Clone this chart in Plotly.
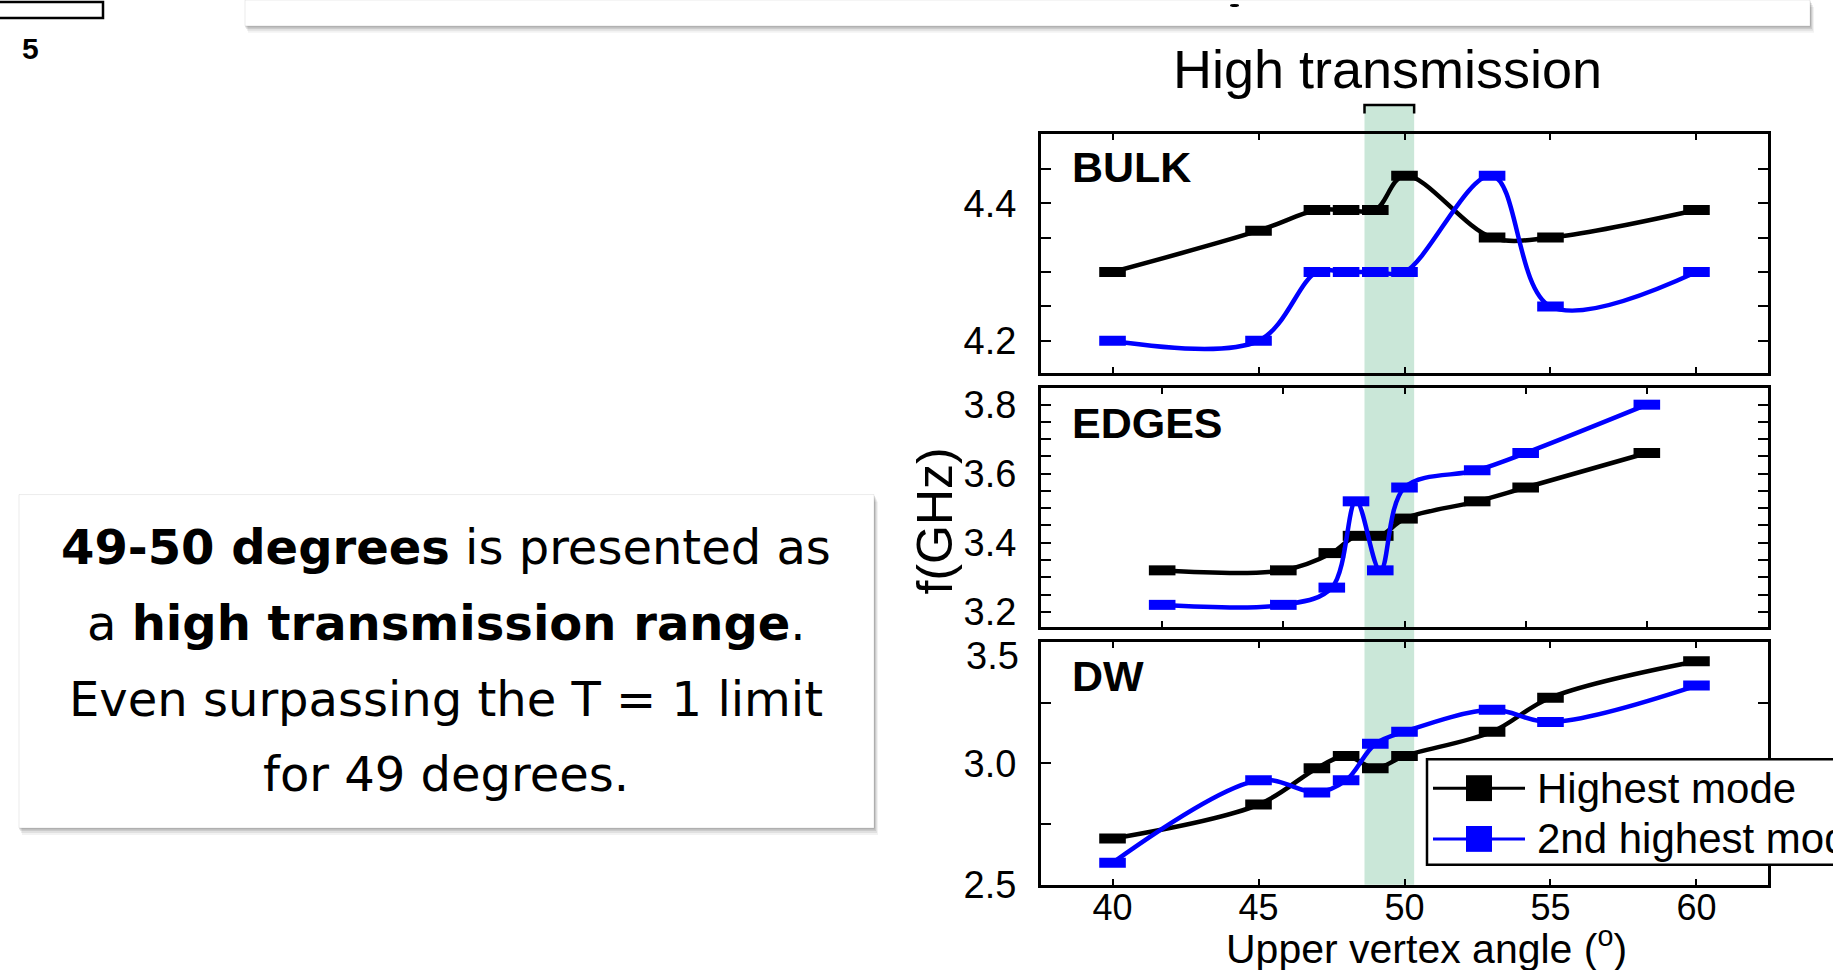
import plotly.graph_objects as go

W, H = 1833, 970
# the captured page comes out about 2% shorter than the figure; positions below are
# given in final picture pixels and stretched back by this factor
SQUEEZE = 0.979

# ---------------- data ----------------
bulk_angle = [40, 45, 47, 48, 49, 50, 53, 55, 60]
bulk_highest = [4.30, 4.36, 4.39, 4.39, 4.39, 4.44, 4.35, 4.35, 4.39]
bulk_second = [4.20, 4.20, 4.30, 4.30, 4.30, 4.30, 4.44, 4.25, 4.30]

edges_angle = [45, 47.5, 48.5, 49, 49.5, 50, 51.5, 52.5, 55]
edges_highest = [3.32, 3.32, 3.37, 3.42, 3.42, 3.47, 3.52, 3.56, 3.66]
edges_second = [3.22, 3.22, 3.27, 3.52, 3.32, 3.56, 3.61, 3.66, 3.80]

dw_angle = [40, 45, 47, 48, 49, 50, 53, 55, 60]
dw_highest = [2.69, 2.83, 2.98, 3.03, 2.98, 3.03, 3.13, 3.27, 3.42]
dw_second = [2.59, 2.93, 2.88, 2.93, 3.08, 3.13, 3.22, 3.17, 3.32]

angle_ticks = [40, 45, 50, 55, 60]
edges_angle_ticks = [45, 47.5, 50, 52.5, 55]
bulk_yticks = [4.20, 4.25, 4.30, 4.35, 4.40, 4.45]
bulk_ylabels = ["4.2", "", "", "", "4.4", ""]
edges_yticks = [3.20, 3.25, 3.30, 3.35, 3.40, 3.45, 3.50, 3.55, 3.60, 3.65, 3.70, 3.75, 3.80]
edges_ylabels = ["3.2", "", "", "", "3.4", "", "", "", "3.6", "", "", "", "3.8"]
dw_yticks = [2.50, 2.75, 3.00, 3.25, 3.50]
dw_ylabels = ["2.5", "", "3.0", "", ""]

high_band = [48.63, 50.33]
series_names = ["Highest mode", "2nd highest mode"]
series_colors = ["#000000", "#0000ff"]


def px(x):
    return x / W


def py(y):
    return 1 - (y / SQUEEZE) / H


PLOT_L, PLOT_R = 1041, 1768
panels = {
    "bulk": (131, 371),
    "edges": (386, 626),
    "dw": (641, 885),
}

fig = go.Figure()

SANS = "Liberation Sans, Arial, sans-serif"
TICK_FONT = dict(family=SANS, size=38, color="black")


def add_series(xs, ys, color, xa, ya):
    fig.add_trace(go.Scatter(
        x=xs, y=ys, xaxis=xa, yaxis=ya, mode="lines+markers",
        line=dict(color=color, width=4.5, shape="spline", smoothing=1.0),
        marker=dict(symbol="line-ew", size=19, color=color,
                    line=dict(color=color, width=10)),
        showlegend=False, hoverinfo="skip",
    ))


add_series(bulk_angle, bulk_highest, series_colors[0], "x", "y")
add_series(bulk_angle, bulk_second, series_colors[1], "x", "y")
add_series(edges_angle, edges_highest, series_colors[0], "x2", "y2")
add_series(edges_angle, edges_second, series_colors[1], "x2", "y2")
add_series(dw_angle, dw_highest, series_colors[0], "x3", "y3")
add_series(dw_angle, dw_second, series_colors[1], "x3", "y3")

axis_common = dict(showline=True, linecolor="black", linewidth=3, mirror="ticks",
                   ticks="inside", tickcolor="black", tickwidth=2,
                   showgrid=False, zeroline=False, tickfont=TICK_FONT)

dom_x = [px(PLOT_L), px(PLOT_R)]


def ydom(name):
    t, b = panels[name]
    return [py(b), py(t)]


fig.update_layout(
    width=W, height=H, autosize=False,
    margin=dict(l=0, r=0, t=0, b=0),
    paper_bgcolor="white", plot_bgcolor="rgba(0,0,0,0)",
    xaxis=dict(domain=dom_x, anchor="y", range=[37.55, 62.45], tickvals=angle_ticks,
               showticklabels=False, ticklen=6, **axis_common),
    yaxis=dict(domain=ydom("bulk"), anchor="x", range=[4.153, 4.50], tickvals=bulk_yticks,
               ticktext=bulk_ylabels, ticklen=10, ticklabelstandoff=14, **axis_common),
    xaxis2=dict(domain=dom_x, anchor="y2", range=[42.5, 57.5], tickvals=edges_angle_ticks,
                showticklabels=False, ticklen=6, **axis_common),
    yaxis2=dict(domain=ydom("edges"), anchor="x2", range=[3.156, 3.848], tickvals=edges_yticks,
                ticktext=edges_ylabels, ticklen=10, ticklabelstandoff=14, **axis_common),
    xaxis3=dict(domain=dom_x, anchor="y3", range=[37.55, 62.45], tickvals=angle_ticks,
                ticklen=6, ticklabelstandoff=-11, **axis_common),
    yaxis3=dict(domain=ydom("dw"), anchor="x3", range=[2.5, 3.5], tickvals=dw_yticks,
                ticktext=dw_ylabels, ticklen=10, ticklabelstandoff=14, **axis_common),
)
fig.update_xaxes(tickfont=dict(family=SANS, size=36, color="black"), selector=dict(anchor="y3"))

shapes = []
annotations = []

# high-transmission band through all three panels, with bracket on top
shapes.append(dict(type="rect", xref="x", yref="paper", x0=high_band[0], x1=high_band[1],
                   y0=py(885), y1=py(102), fillcolor="rgba(150,208,178,0.5)",
                   line=dict(width=0), layer="below"))
shapes.append(dict(type="path", xref="x", yref="paper",
                   path=f"M {high_band[0]},{py(110)} L {high_band[0]},{py(101.5)} "
                        f"L {high_band[1]},{py(101.5)} L {high_band[1]},{py(110)}",
                   line=dict(color="black", width=2.5)))
annotations.append(dict(text="High transmission", xref="paper", yref="paper",
                        x=px(1387), y=py(65), xanchor="center", yanchor="middle",
                        showarrow=False, font=dict(family=SANS, size=54, color="black")))

# panel labels
for label, yc in [("BULK", 164), ("EDGES", 421), ("DW", 675)]:
    annotations.append(dict(text=f"<b>{label}</b>", xref="paper", yref="paper",
                            x=px(1070), y=py(yc), xanchor="left", yanchor="middle",
                            showarrow=False, font=dict(family=SANS, size=43, color="black")))

# upper DW tick label sits just below the panel edge
annotations.append(dict(text="3.5", xref="paper", yref="paper", x=px(1021), y=py(655),
                        xanchor="right", yanchor="middle", showarrow=False, font=TICK_FONT))

# axis titles
annotations.append(dict(text="f(GHz)", xref="paper", yref="paper", x=px(935), y=py(520),
                        xanchor="center", yanchor="middle", textangle=-90, showarrow=False,
                        font=dict(family=SANS, size=50, color="black")))
annotations.append(dict(text="Upper vertex angle (<sup>o</sup>)", xref="paper", yref="paper",
                        x=px(1426), y=py(975), xanchor="center", yanchor="bottom", showarrow=False,
                        font=dict(family=SANS, size=41, color="black")))

# legend box (open towards the right edge)
shapes.append(dict(type="rect", xref="paper", yref="paper", x0=px(1427), x1=px(1836),
                   y0=py(865), y1=py(759), fillcolor="white", line=dict(color="black", width=2.5)))
for i, (name, color) in enumerate(zip(series_names, series_colors)):
    yc = 788 + i * 51
    shapes.append(dict(type="line", xref="paper", yref="paper", x0=px(1433), x1=px(1525),
                       y0=py(yc), y1=py(yc), line=dict(color=color, width=3)))
    shapes.append(dict(type="rect", xref="paper", yref="paper", x0=px(1466), x1=px(1492),
                       y0=py(yc + 13), y1=py(yc - 13), fillcolor=color, line=dict(width=0)))
    annotations.append(dict(text=name, xref="paper", yref="paper", x=px(1535), y=py(yc),
                            xanchor="left", yanchor="middle", showarrow=False,
                            font=dict(family=SANS, size=42, color="black")))


# slide furniture: header bar, page box, caption box
def shadowed_box(x0, y0, x1, y1):
    for dx, dy, a in [(4, 7, 0.05), (3, 5, 0.07), (2, 3, 0.09), (1, 1.5, 0.10)]:
        shapes.append(dict(type="rect", xref="paper", yref="paper",
                           x0=px(x0 + dx - 1), x1=px(x1 + dx), y0=py(y1 + dy), y1=py(y0 + dy),
                           fillcolor=f"rgba(0,0,0,{a})", line=dict(width=0)))
    shapes.append(dict(type="rect", xref="paper", yref="paper",
                       x0=px(x0), x1=px(x1), y0=py(y1), y1=py(y0),
                       fillcolor="white", line=dict(color="rgba(0,0,0,0.08)", width=1)))


shadowed_box(245, -4, 1810, 22)
shapes.append(dict(type="circle", xref="paper", yref="paper", x0=px(1230), x1=px(1239),
                   y0=py(3), y1=py(0), fillcolor="black", line=dict(width=0)))
shapes.append(dict(type="rect", xref="paper", yref="paper", x0=px(-2), x1=px(103),
                   y0=py(14), y1=py(-2), fillcolor="white", line=dict(color="black", width=2.5)))
annotations.append(dict(text="<b>5</b>", xref="paper", yref="paper", x=px(30), y=py(45),
                        xanchor="center", yanchor="middle", showarrow=False,
                        font=dict(family=SANS, size=30, color="black")))

shadowed_box(19, 493, 874, 828)
caption_lines = [
    "<b>49-50 degrees</b> is presented as",
    "a <b>high transmission range</b>.",
    "Even surpassing the T = 1 limit",
    "for 49 degrees.",
]
caption_y = [546, 622, 698, 774]
for line, yc in zip(caption_lines, caption_y):
    annotations.append(dict(text=line, xref="paper", yref="paper", x=px(446), y=py(yc),
                            xanchor="center", yanchor="middle", showarrow=False,
                            font=dict(family="DejaVu Sans, sans-serif", size=48, color="black")))

fig.update_layout(shapes=shapes, annotations=annotations)

fig.write_html("out.html", config={"displayModeBar": False})
